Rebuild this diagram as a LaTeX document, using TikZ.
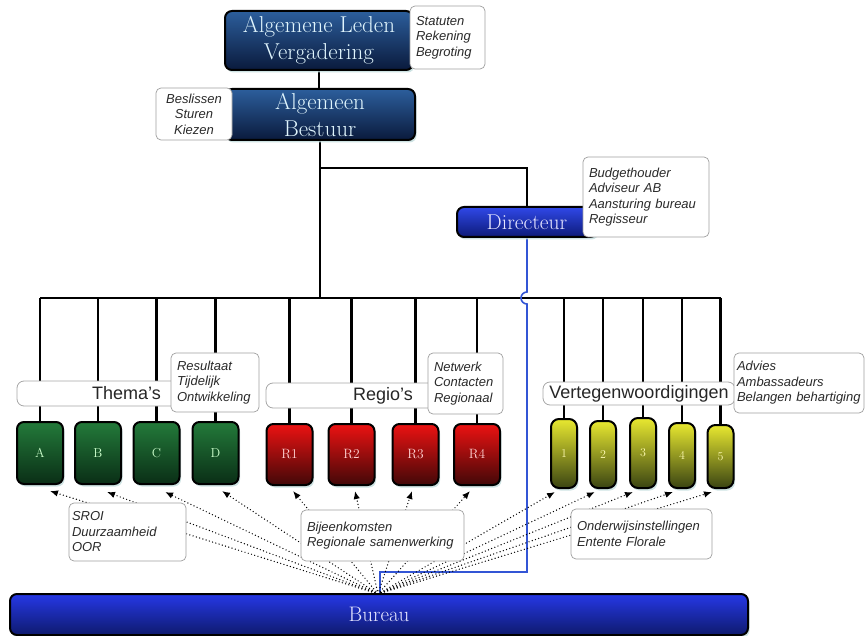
\documentclass[tikz,border=0pt]{standalone}
\usepackage{fontspec}
\setsansfont{Liberation Sans}
\usetikzlibrary{shadows,arrows.meta,calc,backgrounds}
\definecolor{navyT}{HTML}{2C5E9C}
\definecolor{navyB}{HTML}{0A1A3C}
\definecolor{dirT}{HTML}{3048E8}
\definecolor{dirB}{HTML}{0C1A78}
\definecolor{burT}{HTML}{2638E6}
\definecolor{burB}{HTML}{0E1A6E}
\definecolor{grnT}{HTML}{237A3A}
\definecolor{grnB}{HTML}{0A2E16}
\definecolor{redT}{HTML}{EC1212}
\definecolor{redB}{HTML}{420808}
\definecolor{yelT}{HTML}{E8E830}
\definecolor{yelB}{HTML}{3A4412}
\definecolor{glow}{HTML}{C2DCDC}
\definecolor{bluln}{HTML}{3355D5}
\definecolor{notetxt}{HTML}{2A2A2A}
\begin{document}
\begin{tikzpicture}[x=1pt,y=-1pt,
  box/.style={rectangle,rounded corners=7pt,draw=black,line width=2pt,inner sep=0pt,align=center,
    drop shadow={shadow xshift=1.5pt,shadow yshift=-2.5pt,fill=glow,opacity=0.8}},
  navy/.style={box,top color=navyT,bottom color=navyB,text=white!88!cyan,font=\fontsize{23}{27}\selectfont},
  dirbox/.style={box,top color=dirT,bottom color=dirB,text=white!90!blue,font=\fontsize{21.5}{24}\selectfont},
  burbox/.style={box,top color=burT,bottom color=burB,text=white!90!blue,font=\fontsize{21}{24}\selectfont},
  grn/.style={box,top color=grnT,bottom color=grnB,text=white!80!green,font=\fontsize{13}{15}\selectfont,minimum width=46pt,minimum height=62pt},
  rd/.style={box,top color=redT,bottom color=redB,text=white!82!red,font=\fontsize{13.5}{15}\selectfont,minimum width=46pt,minimum height=61pt},
  yl/.style={box,rounded corners=8pt,top color=yelT,bottom color=yelB,text=white!70!yellow,font=\fontsize{12}{14}\selectfont,minimum width=26pt},
  note/.style={rectangle,rounded corners=5pt,draw=gray!75,line width=0.7pt,fill=white,inner xsep=6pt,inner ysep=3pt,
    align=left,text=notetxt,font=\sffamily\itshape\fontsize{13}{15.5}\selectfont},
  bar/.style={rectangle,rounded corners=7pt,draw=gray!70,line width=0.8pt,fill=white,inner sep=0pt,
    text=black!85,font=\sffamily\fontsize{18}{20}\selectfont},
  trunk/.style={line width=2.2pt,draw=black},
  dirline/.style={line width=1.6pt,draw=bluln},
  dots/.style={line width=1.4pt,line cap=round,dash pattern=on 0pt off 3.4pt,-{Latex[length=8pt,width=6.5pt]}}
]
\useasboundingbox (0,0) rectangle (865,636);

% top
\node[navy,minimum width=188pt,minimum height=59pt] (alv) at (319,40.5) {Algemene Leden\\Vergadering};
\node[note,text width=63pt,minimum height=63pt] (n1) at (447.5,37.5) {Statuten\\Rekening\\Begroting};
\node[navy,minimum width=190pt,minimum height=51pt] (ab) at (320,114.5) {Algemeen\\Bestuur};
\node[note,text width=64pt,align=center,minimum height=52pt] (n2) at (194,114) {Beslissen\\Sturen\\Kiezen};
\node[dirbox,minimum width=140pt,minimum height=30pt] (dir) at (527,222) {Directeur};
\node[note,text width=114pt,minimum height=80pt] (n3) at (646,197) {Budgethouder\\Adviseur AB\\Aansturing bureau\\Regisseur};

% label bars
\node[bar,minimum width=219pt,minimum height=25pt] (thema) at (126.5,393.5) {Thema's};
\node[note,text width=76pt,minimum height=59pt] (n4) at (215,382.5) {Resultaat\\Tijdelijk\\Ontwikkeling};
\node[bar,minimum width=234pt,minimum height=25pt] (regio) at (383,395.5) {Regio's};
\node[note,text width=63pt,minimum height=61pt] (n5) at (465.5,383.5) {Netwerk\\Contacten\\Regionaal};
\node[bar,minimum width=192pt,minimum height=23pt] (vert) at (639,393.5) {Vertegenwoordigingen};
\node[note,inner xsep=3pt,text width=124pt,minimum height=60pt] (n6) at (799,383) {Advies\\Ambassadeurs\\Belangen behartiging};

% boxes
\node[grn] (A) at (40,453) {A};
\node[grn] (B) at (98,453) {B};
\node[grn] (C) at (156.5,453) {C};
\node[grn] (D) at (215.5,453) {D};
\node[rd] (R1) at (289.5,454.5) {R1};
\node[rd] (R2) at (351.5,454.5) {R2};
\node[rd] (R3) at (415.5,454.5) {R3};
\node[rd] (R4) at (477,454.5) {R4};
\node[yl,minimum height=69pt] (Y1) at (564,453.5) {1};
\node[yl,minimum height=67pt] (Y2) at (603,454.5) {2};
\node[yl,minimum height=70pt] (Y3) at (643,453) {3};
\node[yl,minimum height=65pt] (Y4) at (682,455.5) {4};
\node[yl,minimum height=63pt] (Y5) at (720.5,456.5) {5};

% bottom notes
\node[note,inner xsep=3pt,text width=111pt,minimum height=58pt] (n7) at (127.5,532) {SROI\\Duurzaamheid\\OOR};
\node[note,text width=151pt,minimum height=51pt] (n8) at (382.5,535.5) {Bijeenkomsten\\Regionale samenwerking};
\node[note,text width=129pt,minimum height=50pt] (n9) at (641.5,534) {Onderwijsinstellingen\\Entente Florale};

\node[burbox,minimum width=738pt,minimum height=41pt] (bur) at (379,614.5) {Bureau};

\coordinate (bus) at (320,298);
\coordinate (br) at (320,168);
\coordinate (bl) at (380,572);
\coordinate (o) at (378,594);

\begin{scope}[on background layer]
  \draw[trunk] (alv.south) -- (alv.south |- ab.north);
  \draw[trunk] (ab.south) -- (bus);
  \draw[trunk] (br) -- (br -| dir.north) -- (dir.north);
  \draw[trunk] (bus -| A.north) -- (bus -| Y5.north);
  \foreach \n in {A,B,C,D,R1,R2,R3,R4,Y1,Y2,Y3,Y4,Y5}
    \draw[trunk] (bus -| \n.north) -- (\n.north);
  \draw[dirline] (dir.south) -- ($(bus -| dir.south)+(0,-6)$)
     arc[start angle=90,end angle=270,radius=6pt]
     -- (dir.south |- bl) -- (bl) -- (bl |- bur.north);
  \draw[dots] (o) -- ($(A.south)+(10,6)$);
  \draw[dots] (o) -- ($(B.south)+(9,7)$);
  \draw[dots] (o) -- ($(C.south)+(8.5,7)$);
  \draw[dots] (o) -- ($(D.south)+(6.5,6)$);
  \draw[dots] (o) -- ($(R1.south)+(3.5,5)$);
  \draw[dots] (o) -- ($(R2.south)+(3.5,5)$);
  \draw[dots] (o) -- ($(R3.south)+(-3.5,5)$);
  \draw[dots] (o) -- ($(R4.south)+(-7,5)$);
  \draw[dots] (o) -- ($(Y1.south)+(-9,3)$);
  \draw[dots] (o) -- ($(Y2.south)+(-8,3)$);
  \draw[dots] (o) -- ($(Y3.south)+(-10,3)$);
  \draw[dots] (o) -- ($(Y4.south)+(-9,3)$);
  \draw[dots] (o) -- ($(Y5.south)+(-8.5,3)$);
\end{scope}
\end{tikzpicture}
\end{document}
